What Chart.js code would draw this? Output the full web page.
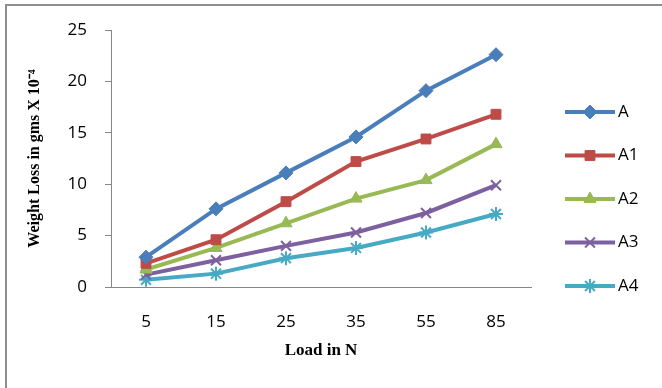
<!DOCTYPE html>
<html>
<head>
<meta charset="utf-8">
<script src="https://cdn.jsdelivr.net/npm/chart.js@4.4.0/dist/chart.umd.min.js"></script>
<style>
  body { margin: 0; background: #fff; }
  #wrap { position: relative; width: 662px; height: 388px; }
  #frame { position: absolute; left: 5px; top: 4px; right: -4px; bottom: -4px;
           border-top: 2px solid #8e8e8e; border-left: 2px solid #8e8e8e; pointer-events: none; }
</style>
</head>
<body>
<div id="wrap">
  <canvas id="chart" width="662" height="388"></canvas>
  <div id="frame"></div>
</div>
<script>
// load values
const loads = ["5", "15", "25", "35", "55", "85"];
const seriesNames = ["A", "A1", "A2", "A3", "A4"];
const valA  = [2.9, 7.6, 11.1, 14.6, 19.1, 22.6];
const valA1 = [2.3, 4.6, 8.3, 12.2, 14.4, 16.8];
const valA2 = [1.7, 3.8, 6.2, 8.6, 10.4, 13.9];
const valA3 = [1.2, 2.6, 4.0, 5.3, 7.2, 9.9];
const valA4 = [0.7, 1.3, 2.8, 3.8, 5.3, 7.1];
const yTicks = [0, 5, 10, 15, 20, 25];

const lineColors = ["#4a7ebb", "#be4b48", "#98b954", "#7d60a0", "#46aac5"];
const markers = ["rectRot", "rect", "triangle", "crossRot", "star"];
const allValues = [valA, valA1, valA2, valA3, valA4];

const tickFont = { family: "'Open Sans', sans-serif", size: 17 };
const titleFont = { family: "'Liberation Serif', serif", size: 17, weight: "bold" };

const datasets = seriesNames.map((name, i) => ({
  label: name,
  data: allValues[i],
  borderColor: lineColors[i],
  backgroundColor: lineColors[i],
  borderWidth: 4,
  pointStyle: markers[i],
  pointRadius: 7,
  pointBorderWidth: (i >= 3) ? 2 : 1,
  pointBorderColor: lineColors[i],
  pointBackgroundColor: lineColors[i],
  tension: 0
}));

// legend at the right, line + marker like the spreadsheet style
const sideLegend = {
  id: "sideLegend",
  afterDraw(chart) {
    const ctx = chart.ctx;
    ctx.save();
    chart.data.datasets.forEach((ds, i) => {
      const y = 112 + i * 43.5;
      ctx.strokeStyle = ds.borderColor;
      ctx.lineWidth = 4;
      ctx.beginPath();
      ctx.moveTo(565, y);
      ctx.lineTo(615, y);
      ctx.stroke();
      ctx.fillStyle = ds.borderColor;
      ctx.lineWidth = ds.pointBorderWidth;
      Chart.helpers.drawPoint(ctx, { pointStyle: ds.pointStyle, radius: ds.pointRadius, rotation: 0, borderWidth: ds.pointBorderWidth }, 590, y);
      ctx.fillStyle = "#000";
      ctx.font = "17px 'Open Sans', sans-serif";
      ctx.textBaseline = "middle";
      ctx.textAlign = "left";
      ctx.fillText(ds.label, 618, y);
    });
    ctx.restore();
  }
};

new Chart(document.getElementById("chart"), {
  type: "line",
  data: { labels: loads, datasets: datasets },
  options: {
    responsive: false,
    animation: false,
    events: [],
    layout: { padding: { left: 0, top: 30, right: 131, bottom: 0 } },
    plugins: { legend: { display: false }, tooltip: { enabled: false } },
    scales: {
      x: {
        offset: true,
        grid: { display: false, drawTicks: false },
        border: { display: true, color: "#868686", width: 1 },
        ticks: { color: "#000", font: tickFont, padding: 25 },
        title: { display: true, text: "Load in N", color: "#000", font: titleFont, padding: { top: 0, bottom: 27 } },
        afterFit(scale) { scale.height = 101; }
      },
      y: {
        min: 0,
        max: 25,
        afterBuildTicks(scale) { scale.ticks = yTicks.map(v => ({ value: v })); },
        grid: { drawOnChartArea: false, drawTicks: true, tickLength: 6, color: "#868686" },
        border: { display: true, color: "#868686", width: 1 },
        ticks: { color: "#000", font: tickFont, padding: 18 },
        title: { display: true, text: "Weight Loss in gms X 10\u207B\u2074", color: "#000",
                 font: { family: "'Liberation Serif', serif", size: 16, weight: "bold" }, padding: { top: 25, bottom: 0 } },
        afterFit(scale) { scale.width = 111; }
      }
    }
  },
  plugins: [sideLegend]
});
</script>
</body>
</html>
